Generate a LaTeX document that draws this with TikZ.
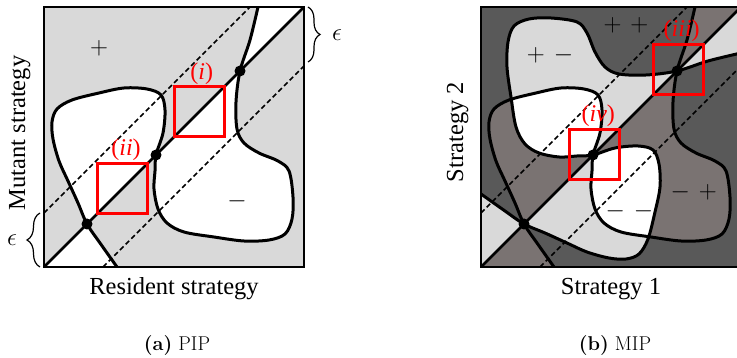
\documentclass[tikz,border=0pt]{standalone}
\usepackage{fontspec}
\newfontfamily\tnr{Liberation Serif}
\usetikzlibrary{decorations.pathreplacing}
\definecolor{lightg}{RGB}{217,217,217}
\definecolor{darkg}{RGB}{89,89,89}
\definecolor{midg}{RGB}{122,115,114}
\tikzset{
  curveC/.style={insert path={plot[smooth,tension=0.55] coordinates {
    (214,260) (206,227) (196,196) (192,165) (193,138) (200,124) (215,114)
    (234,106) (245,96) (249,70) (248,48) (241,33) (225,27) (200,26) (170,30)
    (140,35) (123,44) (114,58) (110,78) (111,96) (112,112) (119,134) (121,157)
    (117,172) (103,178) (80,179) (55,174) (28,167) (13,158) (8,145) (9,128)
    (15,106) (24,86) (34,64) (43,43) (56,24) (73,0)}}},
  mirror/.style={cm={0,1,1,0,(0,0)}},
  curvestyle/.style={line width=3pt, line join=round},
  diagline/.style={line width=2.6pt},
  dashline/.style={line width=1.5pt, dash pattern=on 5pt off 3pt},
  framebox/.style={line width=2.6pt},
  redsq/.style={draw=red, line width=3pt, minimum size=50pt, inner sep=0pt},
  dotn/.style={circle, fill=black, inner sep=0pt, minimum size=11pt},
  lab/.style={font=\tnr\fontsize{24.5}{28}\selectfont},
  redlab/.style={text=red, font=\tnr\fontsize{24}{28}\selectfont},
  sign/.style={font=\fontsize{26}{30}\selectfont},
  bigsign/.style={font=\fontsize{28}{32}\selectfont},
  epsl/.style={font=\fontsize{28}{32}\selectfont},
  capt/.style={font=\fontsize{20}{24}\selectfont, anchor=base},
  bracestyle/.style={decorate, line width=1.2pt},
}
\begin{document}
\begin{tikzpicture}[x=1pt,y=1pt]
\useasboundingbox (0,0) rectangle (737,358);
% ================= (a) PIP =================
\begin{scope}[shift={(44,91)}]
  \coordinate (a0) at (0,0);
  \coordinate (a1) at (260,260);
  \coordinate (au1) at (0,54);
  \coordinate (au2) at (206,260);
  \coordinate (ad1) at (59,0);
  \coordinate (ad2) at (260,201);
  \fill[white] (0,0) rectangle (260,260);
  \fill[lightg, even odd rule, curveC] -- (260,0) -- (260,260) -- cycle
       (0,0) -- (260,260) -- (0,260) -- cycle;
  \draw[dashline] (au1) -- (au2);
  \draw[dashline] (ad1) -- (ad2);
  \draw[diagline] (a0) -- (a1);
  \draw[curvestyle, curveC];
  \draw[framebox] (0,0) rectangle (260,260);
  \node[redsq] (bi) at (155,155) {};
  \node[redsq] (bii) at (78,78) {};
  \node[dotn] (pa1) at (196,196) {};
  \node[dotn] (pa2) at (112,112) {};
  \node[dotn] (pa3) at (43,43) {};
  \node[redlab] (li) at (157.7,193) {(\textit{i})};
  \node[redlab] (lii) at (82,117) {(\textit{ii})};
  \node[bigsign] (splus) at (55,219) {$+$};
  \node[bigsign] (sminus) at (193,66) {$-$};
  \draw[bracestyle, decoration={brace, amplitude=12pt}] (264,260) -- (264,205);
  \node[epsl] (eps1) at (293,232) {$\epsilon$};
  \draw[bracestyle, decoration={brace, amplitude=13pt}] (-4,0) -- (-4,54);
  \node[epsl] (eps2) at (-32,27) {$\epsilon$};
\end{scope}
\node[lab, anchor=base] (xa) at (174,63) {Resident strategy};
\node[lab, anchor=base, rotate=90] (ya) at (25,225) {Mutant strategy};
\node[capt] (ca) at (177,7.3) {\textbf{(a)} PIP};
% ================= (b) MIP =================
\begin{scope}[shift={(481,91)}]
  \coordinate (b0) at (0,0);
  \coordinate (b1) at (260,260);
  \coordinate (bu1) at (0,54);
  \coordinate (bu2) at (206,260);
  \coordinate (bd1) at (59,0);
  \coordinate (bd2) at (260,201);
  \fill[white] (0,0) rectangle (260,260);
  \fill[lightg, even odd rule, curveC] -- (260,0) -- (260,260) -- cycle
       (0,0) -- (260,260) -- (0,260) -- cycle;
  \begin{scope}[mirror]
    \fill[midg, even odd rule, curveC] -- (260,0) -- (260,260) -- cycle
         (0,0) -- (260,260) -- (0,260) -- cycle;
  \end{scope}
  \begin{scope}
    \clip[curveC] -- (260,0) -- (260,260) -- cycle;
    \clip (0,0) -- (260,0) -- (260,260) -- cycle;
    \begin{scope}[mirror]
      \fill[darkg, even odd rule, curveC] -- (260,0) -- (260,260) -- cycle
           (0,0) -- (260,260) -- (0,260) -- cycle;
    \end{scope}
  \end{scope}
  \begin{scope}
    \clip[curveC] -- (0,0) -- (0,260) -- cycle;
    \clip (0,0) -- (260,260) -- (0,260) -- cycle;
    \begin{scope}[mirror]
      \fill[darkg, even odd rule, curveC] -- (260,0) -- (260,260) -- cycle
           (0,0) -- (260,260) -- (0,260) -- cycle;
    \end{scope}
  \end{scope}
  \draw[dashline] (bu1) -- (bu2);
  \draw[dashline] (bd1) -- (bd2);
  \draw[diagline] (b0) -- (b1);
  \draw[curvestyle, curveC];
  \begin{scope}[mirror]
    \draw[curvestyle, curveC];
  \end{scope}
  \draw[framebox] (0,0) rectangle (260,260);
  \node[redsq] (biii) at (197,197) {};
  \node[redsq] (biv) at (113,112) {};
  \node[dotn] (pb1) at (196,196) {};
  \node[dotn] (pb2) at (112,112) {};
  \node[dotn] (pb3) at (43,43) {};
  \node[redlab] (liii) at (200.7,236) {(\textit{iii})};
  \node[redlab] (liv) at (117.3,151) {(\textit{iv})};
  \node[sign] (spp) at (145,242) {$+$\hspace{9pt}$+$};
  \node[sign] (spm) at (69,212) {$+$\hspace{9pt}$-$};
  \node[sign] (smp) at (212.7,74.3) {$-$\hspace{9pt}$+$};
  \node[sign] (smm) at (148.5,55.3) {$-$\hspace{9pt}$-$};
\end{scope}
\node[lab, anchor=base] (xb) at (611,63) {Strategy 1};
\node[lab, anchor=base, rotate=90] (yb) at (463,226) {Strategy 2};
\node[capt] (cb) at (615,7.3) {\textbf{(b)} MIP};
\end{tikzpicture}
\end{document}
